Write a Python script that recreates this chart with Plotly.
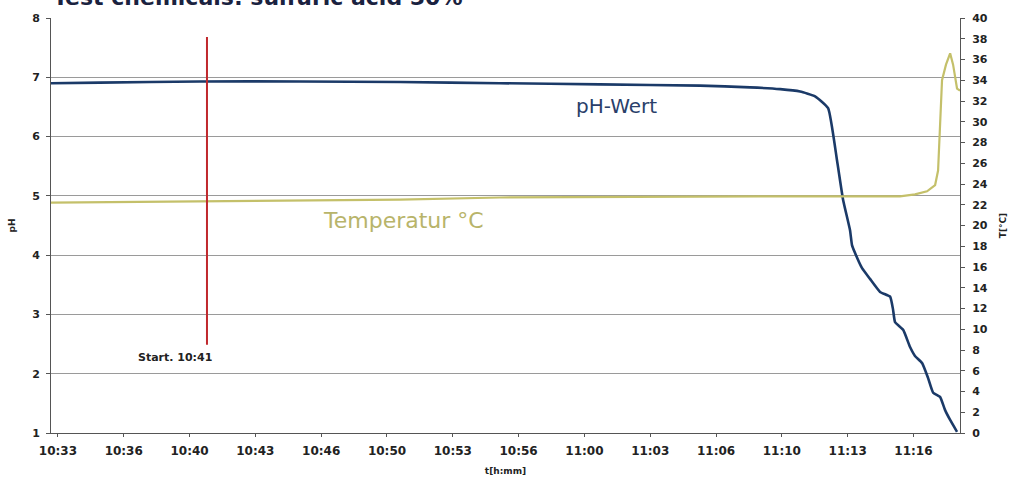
import plotly.graph_objects as go

# time in minutes after 10:33
ph_time = [-0.35, 2.13, 7.19, 12.26, 17.33, 22.39, 27.46, 32.52, 35.06, 36.58, 37.59, 38.35,
           39.01, 39.46, 39.77, 40.12, 40.22, 40.37, 40.73, 41.13, 41.64, 42.15, 42.30, 42.40,
           42.81, 43.16, 43.41, 43.77, 44.07, 44.33, 44.68, 44.93, 45.19, 45.54]
ph_values = [6.90, 6.91, 6.93, 6.93, 6.92, 6.90, 6.88, 6.86, 6.83, 6.80, 6.76, 6.68,
             6.48, 5.60, 4.93, 4.42, 4.17, 4.04, 3.78, 3.60, 3.38, 3.30, 3.08, 2.87,
             2.74, 2.45, 2.30, 2.18, 1.93, 1.68, 1.61, 1.39, 1.22, 1.02]

temp_time = [-0.35, 7.19, 17.33, 22.39, 27.46, 35.56, 42.65, 43.41, 44.02, 44.43, 44.58,
             44.68, 44.78, 44.98, 45.19, 45.34, 45.44, 45.54, 45.69]
temp_values = [22.2, 22.3, 22.5, 22.7, 22.75, 22.8, 22.8, 23.0, 23.3, 23.9, 25.3,
               29.0, 34.0, 35.5, 36.6, 35.5, 34.3, 33.2, 33.0]

tick_minutes = [0, 3.333, 6.667, 10, 13.333, 16.667, 20, 23.333, 26.667, 30, 33.333,
                36.667, 40, 43.333]
tick_labels = ["10:33", "10:36", "10:40", "10:43", "10:46", "10:50", "10:53", "10:56",
               "11:00", "11:03", "11:06", "11:10", "11:13", "11:16"]

start_minute = 7.55
start_label = "Start. 10:41"
title_text = "Test chemicals: sulfuric acid 50%"

FONT = "DejaVu Sans"

fig = go.Figure()
fig.add_trace(go.Scatter(x=temp_time, y=temp_values, yaxis="y2", mode="lines",
                         line=dict(color="#c4c06a", width=2.2), showlegend=False))
fig.add_trace(go.Scatter(x=ph_time, y=ph_values, mode="lines", line_shape="spline",
                         line=dict(color="#1b3a68", width=2.6, smoothing=0.4),
                         showlegend=False))

fig.add_shape(type="line", xref="x", yref="y", x0=start_minute, x1=start_minute,
              y0=2.49, y1=7.68, line=dict(color="#c0282d", width=2))

xtickfont = dict(family=FONT, size=12, color="#222", weight="bold")
ytickfont = dict(family=FONT, size=11, color="#222", weight="bold")
titlefont = dict(family=FONT, size=9, color="#222", weight="bold")

fig.update_layout(
    width=1011, height=483,
    margin=dict(l=51, r=51, t=18, b=50),
    paper_bgcolor="white", plot_bgcolor="white",
    font=dict(family=FONT),
    xaxis=dict(range=[-0.35, 45.69], tickmode="array", tickvals=tick_minutes,
               ticktext=tick_labels, tickfont=xtickfont, showgrid=False, zeroline=False,
               showline=True, linecolor="#555", linewidth=1, ticks="outside", ticklen=3,
               tickcolor="#555", automargin=False, ticklabelstandoff=4,
               title=dict(text="t[h:mm]", font=titlefont, standoff=10)),
    yaxis=dict(range=[1, 8], dtick=1, tickfont=ytickfont, showgrid=True, gridcolor="#9a9a9a",
               gridwidth=1, zeroline=False, showline=True, linecolor="#555", linewidth=1,
               ticks="outside", ticklen=4, tickcolor="#555", automargin=False,
               ticklabelstandoff=4,
               title=dict(text="pH", font=titlefont, standoff=14)),
    yaxis2=dict(range=[0, 40], dtick=2, overlaying="y", side="right", tickfont=ytickfont,
                showgrid=False, zeroline=False, showline=True, linecolor="#555", linewidth=1,
                ticks="outside", ticklen=4, tickcolor="#555", automargin=False,
                ticklabelstandoff=5,
                title=dict(text="T[°C]", font=titlefont, standoff=12)),
    annotations=[
        dict(text="pH-Wert", x=28.3, y=6.52, xref="x", yref="y", showarrow=False,
             font=dict(size=20, color="#2a3f6a", family=FONT)),
        dict(text="Temperatur °C", x=17.48, y=4.59, xref="x", yref="y", showarrow=False,
             font=dict(size=22, color="#b8b46a", family=FONT)),
        dict(text=start_label, x=5.93, y=2.27, xref="x", yref="y", showarrow=False,
             font=dict(size=11, color="#222", family=FONT, weight="bold")),
        dict(text=title_text, x=0.0, y=1.0, xref="paper", yref="paper", xanchor="left",
             yanchor="bottom", showarrow=False, xshift=0, yshift=6,
             font=dict(size=22, color="#1a2240", family=FONT, weight="bold")),
    ],
)

fig.write_html("out.html", config={"displayModeBar": False},
               post_script="document.body.style.margin='0';")
